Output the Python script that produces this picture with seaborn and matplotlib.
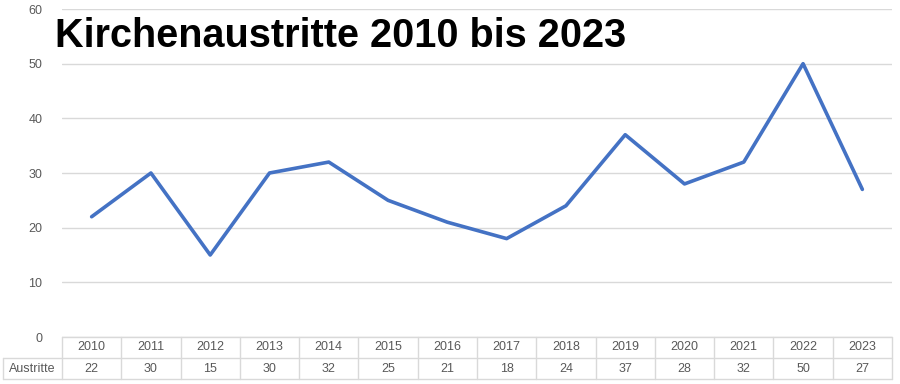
import matplotlib
matplotlib.use("Agg")
import matplotlib.pyplot as plt
import matplotlib.transforms as mtransforms
import seaborn as sns
import pandas as pd

years = [2010, 2011, 2012, 2013, 2014, 2015, 2016, 2017, 2018, 2019, 2020, 2021, 2022, 2023]
austritte = [22, 30, 15, 30, 32, 25, 21, 18, 24, 37, 28, 32, 50, 27]
series_name = "Austritte"
title = "Kirchenaustritte 2010 bis 2023"
yticks = [0, 10, 20, 30, 40, 50, 60]

sns.set_theme(style="white")
plt.rcParams['font.family'] = ['Liberation Sans', 'DejaVu Sans']

df = pd.DataFrame({"Jahr": years, series_name: austritte})

fig = plt.figure(figsize=(9, 3.84), dpi=100)
ax = fig.add_axes([62/900, 1 - 337/384, 830/900, 328/384])

sns.lineplot(data=df, x="Jahr", y=series_name, ax=ax, color="#4472C4", linewidth=2.6)

ax.set_xlim(years[0] - 0.5, years[-1] + 0.5)
ax.set_ylim(0, 60)
ax.set_yticks(yticks)
ax.set_yticklabels([str(t) for t in yticks], color="#595959", fontsize=9)
ax.tick_params(axis='y', length=0, pad=14)
ax.set_xticks([])
ax.set_xlabel("")
ax.set_ylabel("")
for s in ax.spines.values():
    s.set_visible(False)
ax.grid(axis='y', color="#D9D9D9", linewidth=1)
ax.set_axisbelow(True)

# data table
trans = mtransforms.blended_transform_factory(ax.transData, ax.transAxes)
lc = "#D9D9D9"
row_h = 21 / 328
x0 = years[0] - 0.5
x1 = years[-1] + 0.5
xl = x0 - 1.0
kw = dict(transform=trans, color=lc, linewidth=1, clip_on=False)
ax.plot([x0, x1], [0, 0], **kw)
ax.plot([xl, x1], [-row_h, -row_h], **kw)
ax.plot([xl, x1], [-2 * row_h, -2 * row_h], **kw)
ax.plot([xl, xl], [-row_h, -2 * row_h], **kw)
for i in range(len(years) + 1):
    xe = x0 + i
    ax.plot([xe, xe], [0, -2 * row_h], **kw)
for yr, v in zip(years, austritte):
    ax.text(yr, -row_h / 2, str(yr), transform=trans, ha='center', va='center',
            fontsize=9, color="#595959")
    ax.text(yr, -1.5 * row_h, str(v), transform=trans, ha='center', va='center',
            fontsize=9, color="#595959")
ax.text(xl + 0.5, -1.5 * row_h, series_name, transform=trans, ha='center', va='center',
        fontsize=9, color="#595959")

fig.text(55/900, 1 - 47/384, title, ha='left', va='baseline', fontsize=28.5,
         fontweight='bold', color='black')

fig.savefig("out.png", dpi=100)
